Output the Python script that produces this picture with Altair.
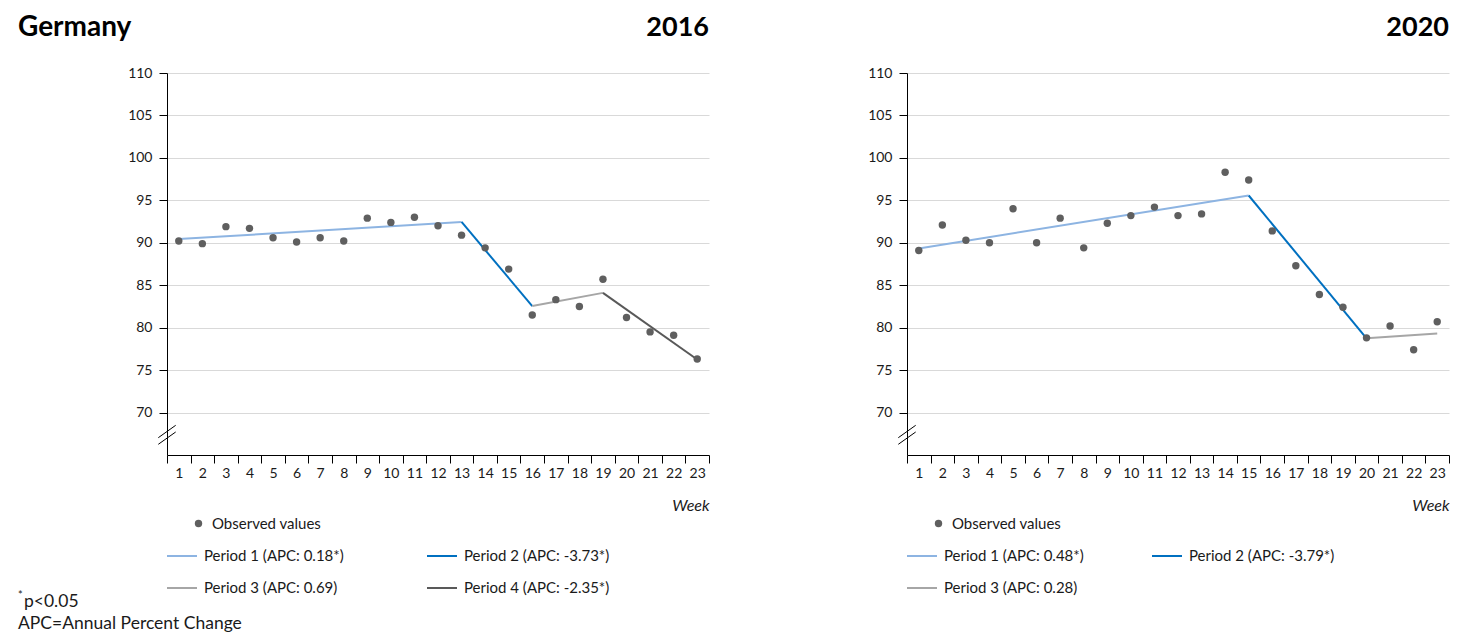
import altair as alt
import pandas as pd

FONT = "Lato"

weeks = list(range(1, 24))

obs_2016 = [90.2, 89.9, 91.9, 91.7, 90.6, 90.1, 90.6, 90.2, 92.9, 92.4, 93.0, 92.0,
            90.9, 89.4, 86.9, 81.5, 83.3, 82.5, 85.7, 81.2, 79.5, 79.1, 76.3]
obs_2020 = [89.1, 92.1, 90.3, 90.0, 94.0, 90.0, 92.9, 89.4, 92.3, 93.2, 94.2, 93.2,
            93.4, 98.3, 97.4, 91.4, 87.3, 83.9, 82.4, 78.8, 80.2, 77.4, 80.7]

# joinpoint segments (start week, end week) and fitted values at those weeks
seg_weeks_2016 = [[1, 13], [13, 16], [16, 19], [19, 23]]
seg_vals_2016 = [[90.44, 92.45], [92.45, 82.55], [82.55, 84.1], [84.1, 76.25]]
labels_2016 = ["Period 1 (APC: 0.18*)", "Period 2 (APC: -3.73*)",
               "Period 3 (APC: 0.69)", "Period 4 (APC: -2.35*)"]

seg_weeks_2020 = [[1, 15], [15, 20], [20, 23]]
seg_vals_2020 = [[89.33, 95.57], [95.57, 78.75], [78.75, 79.3]]
labels_2020 = ["Period 1 (APC: 0.48*)", "Period 2 (APC: -3.79*)",
               "Period 3 (APC: 0.28)"]

y_ticks = [70, 75, 80, 85, 90, 95, 100, 105, 110]
period_colors = ["#8db4e2", "#0070c0", "#a6a6a6", "#595959"]
point_color = "#5f5f5f"
TXT = "#1a1a1a"

W, H = 542, 382
TITLE_Y = -37


def panel(obs, seg_weeks, seg_vals, labels, year, with_country, with_notes, col_pad):
    obs_df = pd.DataFrame({"week": weeks, "value": obs, "kind": "Observed values"})
    rows = []
    for (w0, w1), (v0, v1), lab in zip(seg_weeks, seg_vals, labels):
        rows.append({"week": w0, "value": v0, "period": lab})
        rows.append({"week": w1, "value": v1, "period": lab})
    line_df = pd.DataFrame(rows)

    xenc = alt.X(
        "week:O",
        scale=alt.Scale(type="band", domain=weeks, paddingInner=0, paddingOuter=0),
        axis=alt.Axis(
            title="Week", titleFontStyle="italic", titleFontWeight="normal",
            titleAnchor="end", titleFontSize=16, titleColor=TXT, titlePadding=17,
            labelAngle=0, labelFontSize=14, labelColor=TXT, labelPadding=3,
            tickBand="extent", tickSize=8, tickColor="black", domainColor="black",
            grid=False,
        ),
    )
    yenc = alt.Y(
        "value:Q",
        scale=alt.Scale(domain=[65, 110], nice=False, zero=False),
        axis=alt.Axis(
            title=None, values=y_ticks, grid=True, gridColor="#d9d9d9",
            tickSize=8, tickColor="black", domainColor="black",
            labelFontSize=14, labelColor=TXT, labelPadding=7,
        ),
    )

    lines = alt.Chart(line_df).mark_line(strokeWidth=2).encode(
        x=xenc, y=yenc,
        color=alt.Color(
            "period:N",
            scale=alt.Scale(domain=labels, range=period_colors[: len(labels)]),
            legend=alt.Legend(
                title=None, orient="none", legendX=-1, legendY=467,
                direction="horizontal", columns=2, symbolType="stroke",
                symbolSize=900, symbolStrokeWidth=2, labelFontSize=15,
                labelColor=TXT, labelOffset=6, rowPadding=8, columnPadding=col_pad,
                padding=0, labelFont=FONT,
            ),
        ),
        detail="period:N",
    )

    points = alt.Chart(obs_df).mark_point(
        filled=True, size=55, opacity=1, color=point_color
    ).encode(
        x=xenc, y=yenc,
        shape=alt.Shape(
            "kind:N",
            scale=alt.Scale(domain=["Observed values"], range=["circle"]),
            legend=alt.Legend(
                title=None, orient="none", legendX=24, legendY=443,
                symbolSize=55, symbolFillColor=point_color,
                symbolStrokeColor=point_color, symbolStrokeWidth=0,
                labelFontSize=15, labelColor=TXT, labelOffset=6, padding=0,
                labelFont=FONT,
            ),
        ),
    )

    one = pd.DataFrame({"k": [0]})
    brk1 = alt.Chart(one).mark_rule(color="black", strokeWidth=1).encode(
        x=alt.value(-8.7), x2=alt.value(8.7), y=alt.value(364.7), y2=alt.value(352.3)
    )
    brk2 = alt.Chart(one).mark_rule(color="black", strokeWidth=1).encode(
        x=alt.value(-8.7), x2=alt.value(8.7), y=alt.value(371.3), y2=alt.value(359)
    )
    year_txt = alt.Chart(one).mark_text(
        text=year, align="right", baseline="alphabetic", fontSize=27,
        fontWeight="bold", font=FONT, color="black",
    ).encode(x=alt.value(W), y=alt.value(TITLE_Y))

    layers = [lines, points, brk1, brk2, year_txt]
    # country label (invisible in right panel so both panels share the same top bound)
    layers.append(
        alt.Chart(one).mark_text(
            text="Germany", align="left", baseline="alphabetic", fontSize=28,
            fontWeight="bold", font=FONT, color="black",
            opacity=1 if with_country else 0,
        ).encode(x=alt.value(-149 if with_country else 0), y=alt.value(TITLE_Y))
    )
    if with_notes:
        layers.append(
            alt.Chart(one).mark_text(
                text="*", align="left", baseline="middle", fontSize=11,
                font=FONT, color=TXT,
            ).encode(x=alt.value(-149), y=alt.value(523))
        )
        layers.append(
            alt.Chart(one).mark_text(
                text="p<0.05", align="left", baseline="middle", fontSize=17.5,
                font=FONT, color=TXT,
            ).encode(x=alt.value(-143), y=alt.value(529))
        )
        layers.append(
            alt.Chart(one).mark_text(
                text="APC=Annual Percent Change", align="left", baseline="middle",
                fontSize=17.5, font=FONT, color=TXT,
            ).encode(x=alt.value(-149), y=alt.value(551))
        )

    return alt.layer(*layers).properties(width=W, height=H)


left = panel(obs_2016, seg_weeks_2016, seg_vals_2016, labels_2016, "2016", True, True, 79)
right = panel(obs_2020, seg_weeks_2020, seg_vals_2020, labels_2020, "2020", False, False, 64)

chart = (
    alt.hconcat(left, right, spacing=157)
    .resolve_scale(color="independent", shape="independent")
    .properties(padding={"left": 10, "top": 6, "right": 2, "bottom": 0})
    .configure(font=FONT)
    .configure_view(stroke=None)
)

chart.save("out.html", embed_options={"renderer": "svg", "actions": False})
